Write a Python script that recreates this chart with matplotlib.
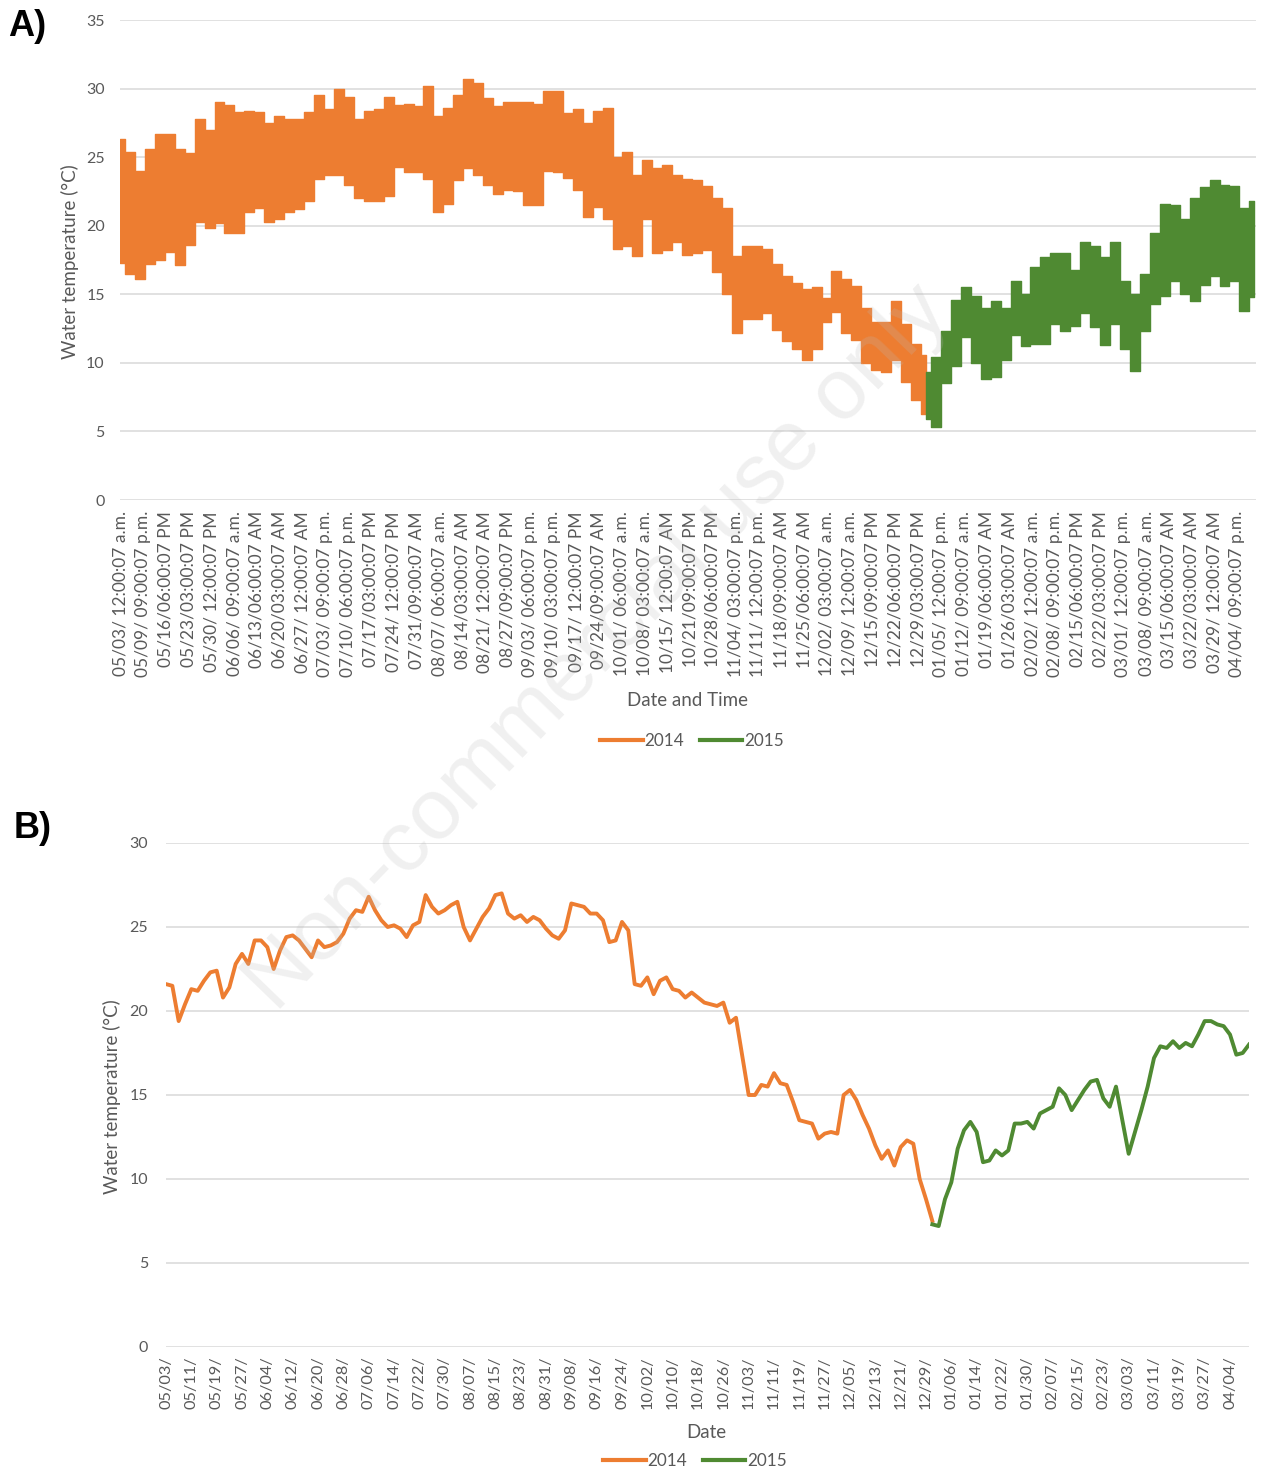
import matplotlib
matplotlib.use("Agg")
import matplotlib.pyplot as plt
from matplotlib.lines import Line2D
import numpy as np

# ---------------- data ----------------
# Panel A: hourly record shown as daily envelope, sampled every 3 days from 05/03/2014
A_STEP = 3
a_upper_2014 = [26.3, 25.4, 24.0, 25.6, 26.7, 26.7, 25.6, 25.3, 27.8, 27.0,
                29.0, 28.8, 28.3, 28.4, 28.3, 27.5, 28.0, 27.8, 27.8, 28.3,
                29.5, 28.5, 30.0, 29.4, 27.8, 28.4, 28.5, 29.4, 28.8, 28.9,
                28.7, 30.2, 28.0, 28.6, 29.5, 30.7, 30.4, 29.3, 28.7, 29.0,
                29.0, 29.0, 28.9, 29.8, 29.8, 28.2, 28.5, 27.5, 28.4, 28.6,
                25.0, 25.4, 23.7, 24.8, 24.2, 24.4, 23.7, 23.4, 23.3, 22.9,
                22.0, 21.3, 17.8, 18.5, 18.5, 18.3, 17.2, 16.3, 15.8, 15.4,
                15.5, 14.7, 16.7, 16.1, 15.6, 14.0, 13.0, 13.0, 14.5, 12.8,
                11.4, 10.6]
a_lower_2014 = [17.3, 16.5, 16.1, 17.2, 17.5, 18.1, 17.1, 18.6, 20.3, 19.8,
                20.2, 19.5, 19.5, 21.0, 21.3, 20.3, 20.5, 21.0, 21.2, 21.8,
                23.4, 23.7, 23.7, 23.0, 22.0, 21.8, 21.8, 22.2, 24.3, 23.9,
                23.9, 23.4, 21.0, 21.6, 23.3, 24.2, 23.7, 23.0, 22.3, 22.6,
                22.5, 21.5, 21.5, 24.0, 23.9, 23.5, 22.6, 20.6, 21.4, 20.5,
                18.3, 18.5, 17.8, 20.5, 18.0, 18.2, 18.8, 17.9, 18.0, 18.2,
                16.6, 15.0, 12.2, 13.2, 13.2, 13.6, 12.4, 11.6, 11.0, 10.2,
                11.0, 13.0, 13.7, 12.2, 11.7, 10.0, 9.5, 9.3, 10.2, 8.6,
                7.3, 6.3]
a_upper_2015 = [9.3, 10.4, 12.3, 14.6, 15.5, 14.9, 14.0, 14.5, 14.0, 16.0,
                15.0, 17.0, 17.7, 18.0, 18.0, 16.8, 18.8, 18.5, 17.7, 18.8,
                16.0, 15.0, 16.5, 19.5, 21.6, 21.5, 20.5, 22.0, 22.8, 23.3,
                23.0, 22.9, 21.3, 21.8]
a_lower_2015 = [5.9, 5.3, 8.5, 9.8, 11.9, 10.0, 8.8, 9.0, 10.2, 12.0,
                11.2, 11.4, 11.4, 12.8, 12.3, 12.7, 13.6, 12.6, 11.3, 12.8,
                11.0, 9.4, 12.3, 14.3, 14.9, 16.0, 15.0, 14.5, 15.7, 16.3,
                15.6, 16.0, 13.8, 14.8]

a_tick_labels = [
    "05/03/ 12:00:07 a.m.", "05/09/ 09:00:07 p.m.", "05/16/06:00:07 PM", "05/23/03:00:07 PM",
    "05/30/ 12:00:07 PM", "06/06/ 09:00:07 a.m.", "06/13/06:00:07 AM", "06/20/03:00:07 AM",
    "06/27/ 12:00:07 AM", "07/03/ 09:00:07 p.m.", "07/10/ 06:00:07 p.m.", "07/17/03:00:07 PM",
    "07/24/ 12:00:07 PM", "07/31/09:00:07 AM", "08/07/ 06:00:07 a.m.", "08/14/03:00:07 AM",
    "08/21/ 12:00:07 AM", "08/27/09:00:07 PM", "09/03/ 06:00:07 p.m.", "09/10/ 03:00:07 p.m.",
    "09/17/ 12:00:07 PM", "09/24/09:00:07 AM", "10/01/ 06:00:07 a.m.", "10/08/ 03:00:07 a.m.",
    "10/15/ 12:00:07 AM", "10/21/09:00:07 PM", "10/28/06:00:07 PM", "11/04/ 03:00:07 p.m.",
    "11/11/ 12:00:07 p.m.", "11/18/09:00:07 AM", "11/25/06:00:07 AM", "12/02/ 03:00:07 a.m.",
    "12/09/ 12:00:07 a.m.", "12/15/09:00:07 PM", "12/22/06:00:07 PM", "12/29/03:00:07 PM",
    "01/05/ 12:00:07 p.m.", "01/12/ 09:00:07 a.m.", "01/19/06:00:07 AM", "01/26/03:00:07 AM",
    "02/02/ 12:00:07 a.m.", "02/08/ 09:00:07 p.m.", "02/15/06:00:07 PM", "02/22/03:00:07 PM",
    "03/01/ 12:00:07 p.m.", "03/08/ 09:00:07 a.m.", "03/15/06:00:07 AM", "03/22/03:00:07 AM",
    "03/29/ 12:00:07 AM", "04/04/ 09:00:07 p.m.",
]
A_LABEL_EVERY_HOURS = 165

# Panel B: daily mean, sampled every 2 days from 05/03/2014
B_STEP = 2
b_2014 = [21.6, 21.5, 19.4, 20.4, 21.3, 21.2, 21.8, 22.3, 22.4, 20.8,
          21.4, 22.8, 23.4, 22.8, 24.2, 24.2, 23.8, 22.5, 23.6, 24.4,
          24.5, 24.2, 23.7, 23.2, 24.2, 23.8, 23.9, 24.1, 24.6, 25.5,
          26.0, 25.9, 26.8, 26.0, 25.4, 25.0, 25.1, 24.9, 24.4, 25.1,
          25.3, 26.9, 26.2, 25.8, 26.0, 26.3, 26.5, 25.0, 24.2, 24.9,
          25.6, 26.1, 26.9, 27.0, 25.8, 25.5, 25.7, 25.3, 25.6, 25.4,
          24.9, 24.5, 24.3, 24.8, 26.4, 26.3, 26.2, 25.8, 25.8, 25.4,
          24.1, 24.2, 25.3, 24.8, 21.6, 21.5, 22.0, 21.0, 21.8, 22.0,
          21.3, 21.2, 20.8, 21.1, 20.8, 20.5, 20.4, 20.3, 20.5, 19.3,
          19.6, 17.3, 15.0, 15.0, 15.6, 15.5, 16.3, 15.7, 15.6, 14.6,
          13.5, 13.4, 13.3, 12.4, 12.7, 12.8, 12.7, 15.0, 15.3, 14.7,
          13.8, 13.0, 12.0, 11.2, 11.7, 10.8, 11.9, 12.3, 12.1, 10.0,
          8.8, 7.5]
b_2015 = [7.3, 7.2, 8.8, 9.8, 11.8, 12.9, 13.4, 12.8, 11.0, 11.1,
          11.7, 11.4, 11.7, 13.3, 13.3, 13.4, 13.0, 13.9, 14.1, 14.3,
          15.4, 15.0, 14.1, 14.7, 15.3, 15.8, 15.9, 14.8, 14.3, 15.5,
          13.5, 11.5, 12.8, 14.1, 15.5, 17.2, 17.9, 17.8, 18.2, 17.8,
          18.1, 17.9, 18.6, 19.4, 19.4, 19.2, 19.1, 18.6, 17.4, 17.5,
          18.0]
b_tick_labels = [
    "05/03/", "05/11/", "05/19/", "05/27/", "06/04/", "06/12/", "06/20/", "06/28/",
    "07/06/", "07/14/", "07/22/", "07/30/", "08/07/", "08/15/", "08/23/", "08/31/",
    "09/08/", "09/16/", "09/24/", "10/02/", "10/10/", "10/18/", "10/26/", "11/03/",
    "11/11/", "11/19/", "11/27/", "12/05/", "12/13/", "12/21/", "12/29/", "01/06/",
    "01/14/", "01/22/", "01/30/", "02/07/", "02/15/", "02/23/", "03/03/", "03/11/",
    "03/19/", "03/27/", "04/04/",
]
B_LABEL_EVERY_DAYS = 8
series_names = ["2014", "2015"]

# ---------------- style ----------------
ORANGE = "#ED7D31"
GREEN = "#4F8A32"
GRID = "#D9D9D9"
TXT = "#595959"
FONT = ["Lato", "DejaVu Sans"]
plt.rcParams["font.family"] = FONT

W, H = 1261, 1471
fig = plt.figure(figsize=(W / 100, H / 100), dpi=100)
fig.patch.set_facecolor("white")


def style_axes(ax, ymax, ypad):
    ax.set_ylim(0, ymax)
    ax.set_yticks(np.arange(0, ymax + 1, 5))
    ax.yaxis.grid(True, color=GRID, lw=1.1)
    ax.set_axisbelow(True)
    for s in ax.spines.values():
        s.set_visible(False)
    ax.tick_params(axis="y", length=0, labelsize=11.5, colors=TXT, pad=ypad)


# ---------------- panel A ----------------
axA = fig.add_axes([120 / W, 1 - 500 / H, (1256 - 120) / W, 480 / H])
dA14 = np.arange(len(a_upper_2014)) * A_STEP
dA15 = dA14[-1] + np.arange(len(a_upper_2015)) * A_STEP
axA.fill_between(dA14, a_lower_2014, a_upper_2014, step="mid", color=ORANGE, lw=1.0,
                 edgecolor=ORANGE)
axA.fill_between(dA15, a_lower_2015, a_upper_2015, step="mid", color=GREEN, lw=1.0,
                 edgecolor=GREEN)
style_axes(axA, 35, 11)
tick_days_A = np.arange(len(a_tick_labels)) * A_LABEL_EVERY_HOURS / 24.0
axA.set_xticks(tick_days_A)
axA.set_xticklabels(a_tick_labels, rotation=90, fontsize=12.5, color=TXT)
axA.tick_params(axis="x", length=0, pad=8)
axA.set_xlim(0, 342.5)
fig.text(70 / W, 1 - 262 / H, "Water temperature (°C)", rotation=90, ha="center",
         va="center", fontsize=13.5, color=TXT)
fig.text(688 / W, 1 - 700 / H, "Date and Time", ha="center", va="center",
         fontsize=13.5, color=TXT)
handles = [Line2D([], [], color=ORANGE, lw=3), Line2D([], [], color=GREEN, lw=3)]
fig.legend(handles, series_names, loc="center", bbox_to_anchor=(692 / W, 1 - 741 / H),
           ncol=2, frameon=False, fontsize=12.3, handlelength=2.5, handletextpad=0.1,
           columnspacing=0.9, labelcolor=TXT)

# ---------------- panel B ----------------
axB = fig.add_axes([166 / W, 1 - 1347 / H, (1249 - 166) / W, 504 / H])
dB14 = np.arange(len(b_2014)) * B_STEP
dB15 = dB14[-1] + np.arange(len(b_2015)) * B_STEP
axB.plot(dB14, b_2014, color=ORANGE, lw=2.8, solid_joinstyle="round")
axB.plot(dB15, b_2015, color=GREEN, lw=2.8, solid_joinstyle="round")
style_axes(axB, 30, 13)
tick_days_B = np.arange(len(b_tick_labels)) * B_LABEL_EVERY_DAYS
axB.set_xticks(tick_days_B)
axB.set_xticklabels(b_tick_labels, rotation=90, fontsize=11.8, color=TXT)
axB.tick_params(axis="x", length=0, pad=7)
axB.set_xlim(0, 342)
fig.text(112 / W, 1 - 1097 / H, "Water temperature (°C)", rotation=90, ha="center",
         va="center", fontsize=13.5, color=TXT)
fig.text(706 / W, 1 - 1433 / H, "Date", ha="center", va="center", fontsize=13.5, color=TXT)
fig.legend(handles, series_names, loc="center", bbox_to_anchor=(695 / W, 1 - 1461 / H),
           ncol=2, frameon=False, fontsize=12.3, handlelength=2.5, handletextpad=0.1,
           columnspacing=0.9, labelcolor=TXT)

# ---------------- panel letters and watermark ----------------
fig.text(8 / W, 1 - 27 / H, "A)", fontsize=26, fontweight="bold", ha="left", va="center",
         family=["Liberation Sans", "DejaVu Sans"], color="black")
fig.text(14 / W, 1 - 828 / H, "B)", fontsize=26, fontweight="bold", ha="left", va="center",
         family=["Liberation Sans", "DejaVu Sans"], color="black")
fig.text(598 / W, 1 - 648 / H, "Non-commercial use only", rotation=46, ha="center",
         va="center", fontsize=62, color="#BBBBBB", alpha=0.22,
         family=["Liberation Sans", "DejaVu Sans"], zorder=10)

fig.savefig("out.png", dpi=100, facecolor="white")
